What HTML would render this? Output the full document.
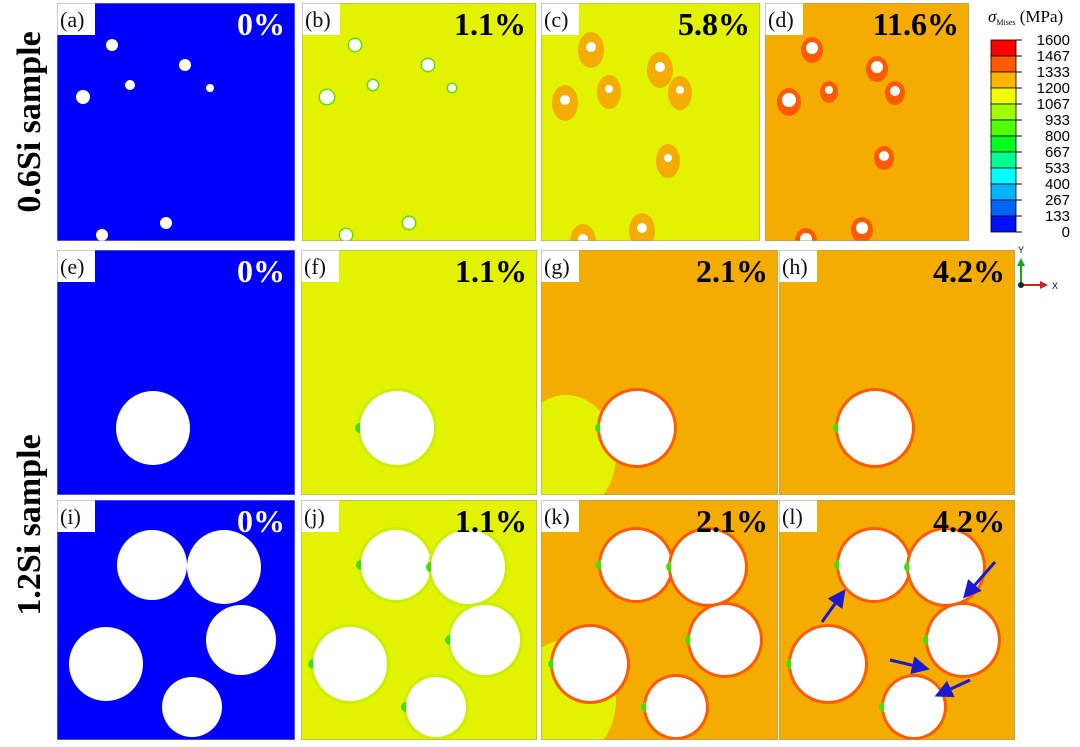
<!DOCTYPE html>
<html><head><meta charset="utf-8"><style>
body{margin:0;background:#fff;width:1080px;height:742px;overflow:hidden;font-family:"Liberation Serif",serif}
</style></head><body>
<svg id="s" width="1080" height="742" xmlns="http://www.w3.org/2000/svg">
<defs id="defs"><marker id="ah" markerWidth="6" markerHeight="6" refX="4" refY="3" orient="auto"><path d="M0,0 L6,3 L0,6 z" fill="#1a1ad0"/></marker></defs>
<text x="0" y="0" transform="translate(40,122) rotate(-90)" text-anchor="middle" font-size="34" font-weight="bold" font-family="Liberation Serif">0.6Si sample</text>
<text x="0" y="0" transform="translate(40,525) rotate(-90)" text-anchor="middle" font-size="34" font-weight="bold" font-family="Liberation Serif">1.2Si sample</text>
<g id="panels"></g>
<g id="arrows">
<line x1="822" y1="622" x2="842" y2="594" stroke="#1a1ad0" stroke-width="3" marker-end="url(#ah)"/>
<line x1="995" y1="562" x2="967" y2="594" stroke="#1a1ad0" stroke-width="3" marker-end="url(#ah)"/>
<line x1="890" y1="660" x2="924" y2="668" stroke="#1a1ad0" stroke-width="3" marker-end="url(#ah)"/>
<line x1="970" y1="680" x2="940" y2="694" stroke="#1a1ad0" stroke-width="3" marker-end="url(#ah)"/>
</g>
<g id="legend"></g>
</svg>
<script>
const legendValues=[1600,1467,1333,1200,1067,933,800,667,533,400,267,133,0];
const legendColors=["#ff0000","#ff5a00","#ffb400","#f0ff00","#a0ff00","#50ff00","#00ff20","#00ff90","#00ffff","#00b4ff","#0064ff","#0010ff"];
const labels=["(a)","(b)","(c)","(d)","(e)","(f)","(g)","(h)","(i)","(j)","(k)","(l)"];
const strains=["0%","1.1%","5.8%","11.6%","0%","1.1%","2.1%","4.2%","0%","1.1%","2.1%","4.2%"];
const bgColors=["#0000ff","#e2f200","#e2f200","#f5ac00","#0000ff","#e2f200","#f5ac00","#f5ac00","#0000ff","#e2f200","#f5ac00","#f5ac00"];
const holesA=[[55,42,6],[128,62,6],[73,82,5],[153,85,4],[26,94,7],[109,220,6],[45,232,6]];
const holesB=[[53,42,6],[126,62,6],[71,82,5],[150,85,4],[25,94,7],[107,220,6],[44,232,6]];
const holesC=[[50,44,5],[119,64,5],[68,86,4],[139,87,4],[24,97,5],[127,155,4],[42,236,5],[101,225,5]];
const holesD=[[47,45,6],[112,64,6],[64,87,4],[130,88,5],[24,97,7],[119,153,5],[97,225,6],[41,236,6]];
const holesRow2=[[96,178,37]];
const holesRow3=[[95,65,35],[167,67,37],[49,164,37],[184,140,35],[135,207,30],[0,0,26]];
const NS="http://www.w3.org/2000/svg";
const P=document.getElementById('panels');
const D=document.getElementById('defs');
function mk(t,a,p){const e=document.createElementNS(NS,t);for(const k in a)e.setAttribute(k,a[k]);p.appendChild(e);return e;}
function geom(r,c){
  if(r==0){const xs=[57,302,541,765],ws=[238,234,219,204];return [xs[c],3,ws[c],238];}
  const xs=[57,301,541,779],ws=[238,236,237,236];
  return r==1?[xs[c],250,ws[c],245]:[xs[c],500,ws[c],240];
}
for(let i=0;i<12;i++){
  const r=Math.floor(i/4),c=i%4;const [x,y,w,h]=geom(r,c);
  const cp=mk('clipPath',{id:'cp'+i},D);mk('rect',{x:x,y:y,width:w,height:h},cp);
  const g=mk('g',{'clip-path':'url(#cp'+i+')'},P);
  
  
  mk('rect',{x:x,y:y,width:w,height:h,fill:bgColors[i]},g);
  if(r>0&&c==2){mk('ellipse',{cx:x+25,cy:y+h-40,rx:50,ry:60,fill:'#e2f200'},g);}
  const holes=r==0?[holesA,holesB,holesC,holesD][c]:r==1?holesRow2:holesRow3;
  holes.forEach(hh=>{
    const cx=x+hh[0],cy=y+hh[1];
    if(r==0&&c==2){mk('ellipse',{cx:cx,cy:cy+3,rx:hh[2]+8,ry:hh[2]+13,fill:'#f5ac00'},g);}
    if(r==0&&c==3){mk('ellipse',{cx:cx,cy:cy+2,rx:hh[2]+5,ry:hh[2]+7,fill:'#ff5a00'},g);}
    if(r==0&&c==1){mk('circle',{cx:cx,cy:cy,r:hh[2]+1.5,fill:'#60e000'},g);}
    if(r>0&&c>0&&hh[2]>20){
      mk('circle',{cx:cx,cy:cy,r:hh[2]+3,fill:c>=2?'#ff5a00':'#c8f000'},g);
      mk('circle',{cx:cx-hh[2],cy:cy,r:5,fill:'#40e000'},g);
    }
    mk('circle',{cx:cx,cy:cy,r:hh[2],fill:'#fff'},g);
  });
  mk('rect',{x:x,y:y,width:38,height:32,fill:'#fff'},g);
  mk('rect',{x:x,y:y,width:w,height:h,fill:'none',stroke:'#999','stroke-width':1},g);
  const t=mk('text',{x:x+3,y:y+24,'font-size':22,fill:'#111'},g);t.textContent=labels[i];
  
  
  const s=mk('text',{x:x+w-10,y:y+32,'font-size':32,'font-weight':'bold','text-anchor':'end',fill:bgColors[i]=="#0000ff"?'#fff':'#000'},g);s.textContent=strains[i];
  
  
}
const L=document.getElementById('legend');
const by=40,bh=192,sh=bh/legendColors.length;
legendColors.forEach((col,k)=>{const e=mk('rect',{x:991,y:by+k*sh,width:25,height:sh,fill:col,stroke:'#000','stroke-width':0.8},L);

});
legendValues.forEach((v,k)=>{const yy=by+k*sh;mk('line',{x1:1016,x2:1022,y1:yy,y2:yy,stroke:'#000'},L);
const t=mk('text',{x:1070,y:yy+5,'font-size':15,'text-anchor':'end','font-family':'Liberation Sans'},L);t.textContent=v;

});
const ti=mk('text',{x:988,y:22,'font-size':17},L);ti.innerHTML='<tspan font-style="italic">σ</tspan><tspan font-size="8" dy="3">Mises</tspan><tspan dy="-3"> (MPa)</tspan>';


const ax=mk('g',{},L);


mk('line',{x1:1021,y1:285,x2:1021,y2:264,stroke:'#1a1','stroke-width':2},ax);
mk('polygon',{points:'1017,266 1025,266 1021,258',fill:'#1a1'},ax);
mk('line',{x1:1021,y1:285,x2:1042,y2:285,stroke:'#c22','stroke-width':2},ax);
mk('polygon',{points:'1040,281 1040,289 1048,285',fill:'#c22'},ax);
mk('circle',{cx:1021,cy:285,r:3,fill:'#124'},ax);
const ty=mk('text',{x:1018,y:253,'font-size':9,'font-family':'Liberation Sans'},ax);ty.textContent='Y';
const tx=mk('text',{x:1052,y:289,'font-size':9,'font-family':'Liberation Sans'},ax);tx.textContent='X';
</script>
</body></html>
